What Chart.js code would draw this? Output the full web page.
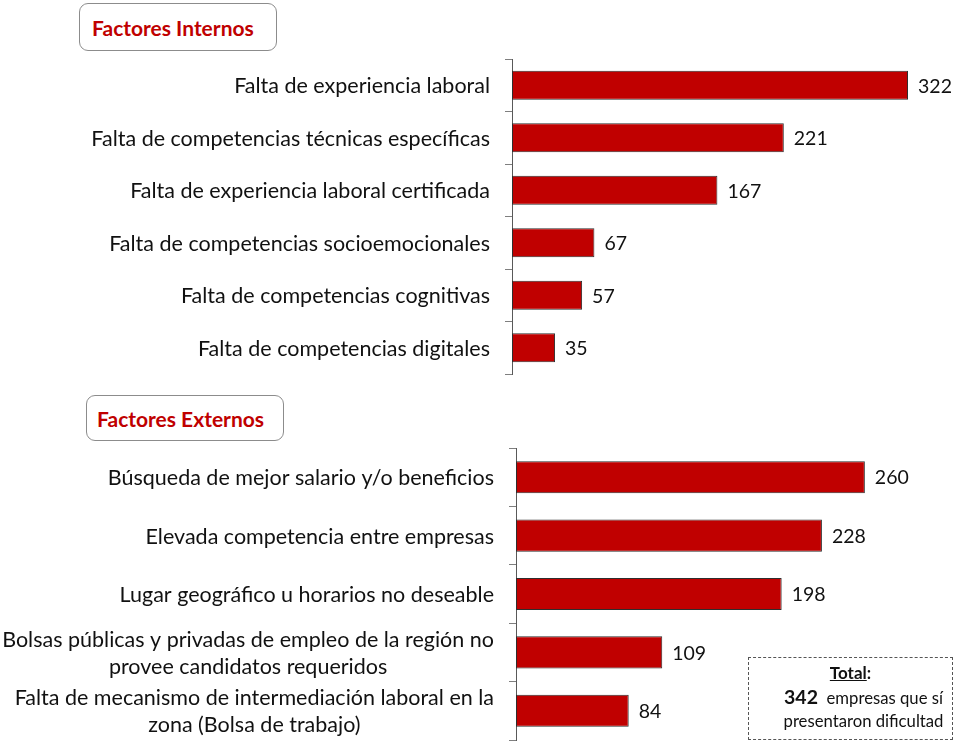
<!DOCTYPE html>
<html lang="es">
<head>
<meta charset="utf-8">
<script src="https://cdn.jsdelivr.net/npm/chart.js@4.4.1/dist/chart.umd.min.js"></script>
<style>
  html, body { margin: 0; padding: 0; background: #ffffff; }
  #page { position: relative; width: 955px; height: 742px; overflow: hidden; font-family: Lato, "Open Sans", sans-serif; color: #111; }
  .panel { position: absolute; left: 0; }
  .tag {
    position: absolute; box-sizing: border-box;
    border: 1px solid #8c8c8c; border-radius: 9px; background: #fff;
    color: #C00000; font-weight: bold; font-size: 21px;
    display: flex; align-items: center;
  }
  #total {
    position: absolute; box-sizing: border-box;
    left: 748px; top: 657px; width: 205px; height: 83px;
    border: 1px dashed #555; text-align: center; font-size: 16.7px; line-height: 23.5px;
    padding-top: 3px;
  }
  #total .hd { font-weight: bold; font-size: 17px; }
  #total .hd u { text-decoration: underline; }
  #total .ln { padding-left: 26px; }
  #total b { font-size: 19.5px; }
</style>
</head>
<body>
<div id="page">
  <div class="panel" style="top:0;width:955px;height:400px;"><canvas id="cInt" width="955" height="400"></canvas></div>
  <div class="panel" style="top:430px;width:955px;height:312px;"><canvas id="cExt" width="955" height="312"></canvas></div>
  <div class="tag" style="left:79px;top:3px;width:198px;height:48px;padding-left:12px;">Factores Internos</div>
  <div class="tag" style="left:86px;top:395px;width:198px;height:46px;padding-left:10px;">Factores Externos</div>
  <div id="total">
    <div class="hd"><u>Total</u>:</div>
    <div class="ln"><b>342</b>&nbsp; empresas que sí</div>
    <div class="ln">presentaron dificultad</div>
  </div>
</div>
<script>
// Factores internos
const internalLabels = [
  'Falta de experiencia laboral',
  'Falta de competencias técnicas específicas',
  'Falta de experiencia laboral certificada',
  'Falta de competencias socioemocionales',
  'Falta de competencias cognitivas',
  'Falta de competencias digitales'
];
const internalValues = [322, 221, 167, 67, 57, 35];

// Factores externos
const externalLabels = [
  'Búsqueda de mejor salario y/o beneficios',
  'Elevada competencia entre empresas',
  'Lugar geográfico u horarios no deseable',
  ['Bolsas públicas y privadas de empleo de la región no', 'provee candidatos requeridos'],
  ['Falta de mecanismo de intermediación laboral en la', 'zona (Bolsa de trabajo)']
];
const externalValues = [260, 228, 198, 109, 84];

const BAR_RED = '#C00000';
const TEXT_DARK = '#111111';
const LABEL_FONT = '21.5px Lato, "Open Sans", sans-serif';
const VALUE_FONT = '19.5px Lato, "Open Sans", sans-serif';

// Draws the category names (block right-aligned, lines centred within it)
// and the value next to the end of each bar.
const sideText = {
  id: 'sideText',
  afterDraw(chart, args, opts) {
    const ctx = chart.ctx;
    const yScale = chart.scales.y;
    const xScale = chart.scales.x;
    const labels = chart.data.labels;
    const right = yScale.right - opts.gap;
    ctx.save();
    ctx.fillStyle = TEXT_DARK;
    ctx.font = LABEL_FONT;
    ctx.textBaseline = 'middle';
    labels.forEach((lab, i) => {
      const lines = Array.isArray(lab) ? lab : [lab];
      const y = yScale.getPixelForTick(i);
      const w = Math.max(...lines.map(l => ctx.measureText(l).width));
      const cx = right - w / 2;
      const lh = opts.lineHeight;
      const y0 = y - (lines.length - 1) * lh / 2 + 1;
      ctx.textAlign = 'center';
      lines.forEach((l, k) => ctx.fillText(l, cx, y0 + k * lh));
    });
    const meta = chart.getDatasetMeta(0);
    ctx.font = VALUE_FONT;
    ctx.textAlign = 'left';
    meta.data.forEach((bar, i) => {
      const v = chart.data.datasets[0].data[i];
      ctx.fillText(String(v), xScale.getPixelForValue(v) + 10, bar.y + 1);
    });
    ctx.restore();
  }
};

function makeChart(id, labels, values, axisX, xMax, pad) {
  return new Chart(document.getElementById(id), {
    type: 'bar',
    data: {
      labels: labels,
      datasets: [{
        data: values,
        backgroundColor: BAR_RED,
        borderColor: '#2e2e2e',
        borderWidth: 1,
        borderSkipped: false,
        categoryPercentage: 1,
        barPercentage: 0.55
      }]
    },
    options: {
      indexAxis: 'y',
      responsive: false,
      animation: false,
      devicePixelRatio: 1,
      layout: { padding: pad },
      plugins: {
        legend: { display: false },
        tooltip: { enabled: false },
        sideText: { gap: 22, lineHeight: 27 }
      },
      scales: {
        x: { display: false, min: 0, max: xMax },
        y: {
          offset: true,
          ticks: { display: false },
          grid: {
            offset: true,
            drawOnChartArea: false,
            drawTicks: true,
            tickLength: 7,
            color: '#7f7f7f',
            lineWidth: 1
          },
          border: { display: true, color: '#595959', width: 1 },
          afterFit(scale) { scale.width = axisX; }
        }
      }
    },
    plugins: [sideText]
  });
}

makeChart('cInt', internalLabels, internalValues, 512, 348, { top: 59, bottom: 26, left: 0, right: 15 });
makeChart('cExt', externalLabels, externalValues, 516, 316, { top: 18, bottom: 2, left: 0, right: 15 });
</script>
</body>
</html>
